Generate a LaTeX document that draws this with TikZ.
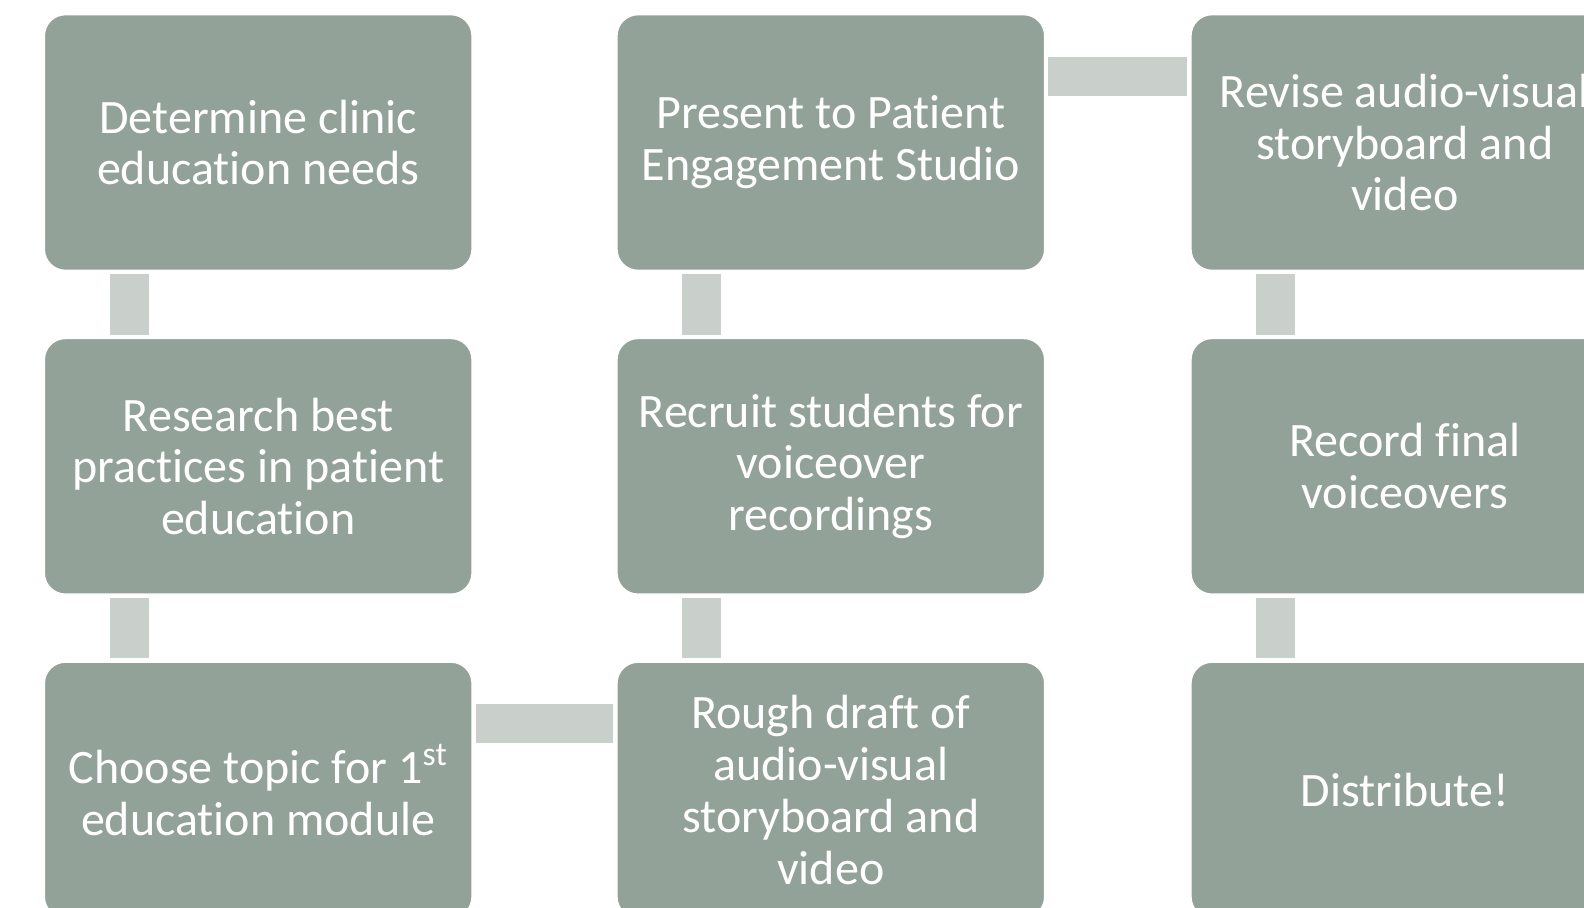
\documentclass[tikz,border=0pt]{standalone}
\usepackage{fontspec}
\setmainfont{Carlito}[RawFeature={-liga}]
\definecolor{boxfill}{HTML}{93A298}
\definecolor{connfill}{HTML}{C9D0CB}
\tikzset{
  stepbox/.style={draw=white, line width=0.6pt, fill=boxfill, rounded corners=10.5pt,
    minimum width=213.75pt, minimum height=127.75pt, inner sep=0pt,
    text=white, align=center, font=\fontsize{24}{25.9}\selectfont},
  linkbar/.style={draw=connfill, line width=19.5pt, shorten <=1.6pt, shorten >=1.6pt}
}
\begin{document}
\begin{tikzpicture}[x=0.5pt,y=-0.5pt]
\useasboundingbox (0,0) rectangle (1584,907);
\clip (0,0) rectangle (1584,907);
\node[stepbox] (a) at (258.2,142.5) {Determine clinic\\education needs};
\node[stepbox] (b) at (258.2,466.3) {Research best\\practices in patient\\education};
\node[stepbox] (c) at (258.2,790) {Choose topic for 1\textsuperscript{st}\\education module};
\node[stepbox] (d) at (830.8,790) {Rough draft of\\audio-visual\\storyboard and\\video};
\node[stepbox] (e) at (830.8,466.3) {Recruit students for\\voiceover\\recordings};
\node[stepbox] (f) at (830.8,142.5) {Present to Patient\\Engagement Studio};
\node[stepbox] (g) at (1404.8,142.5) {Revise audio-visual\\storyboard and\\video};
\node[stepbox] (h) at (1404.8,466.3) {Record final\\voiceovers};
\node[stepbox] (i) at (1404.8,790) {Distribute!};
\draw[linkbar] ([xshift=42.75pt]a.south west) -- ([xshift=42.75pt]b.north west);
\draw[linkbar] ([xshift=42.75pt]b.south west) -- ([xshift=42.75pt]c.north west);
\draw[linkbar] ([yshift=-31pt]c.north east) -- ([yshift=-31pt]d.north west);
\draw[linkbar] ([xshift=42.75pt]d.north west) -- ([xshift=42.75pt]e.south west);
\draw[linkbar] ([xshift=42.75pt]e.north west) -- ([xshift=42.75pt]f.south west);
\draw[linkbar] ([yshift=-31pt]f.north east) -- ([yshift=-31pt]g.north west);
\draw[linkbar] ([xshift=42.75pt]g.south west) -- ([xshift=42.75pt]h.north west);
\draw[linkbar] ([xshift=42.75pt]h.south west) -- ([xshift=42.75pt]i.north west);
\end{tikzpicture}
\end{document}
